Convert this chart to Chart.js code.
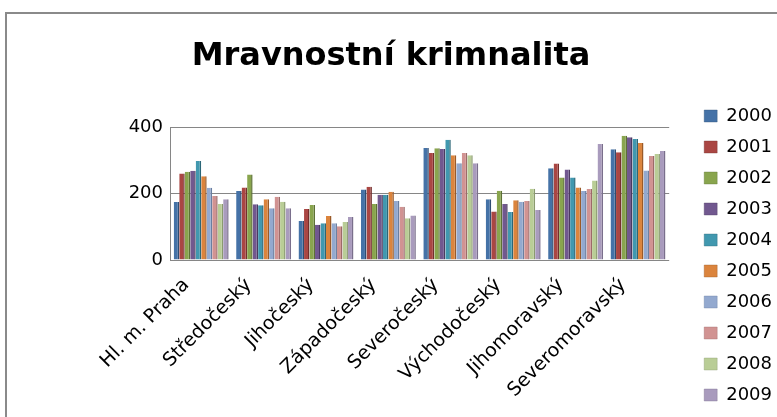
<!DOCTYPE html>
<html>
<head>
<meta charset="utf-8">
<title>Mravnostní krimnalita</title>
<script src="https://cdn.jsdelivr.net/npm/chart.js@4/dist/chart.umd.min.js"></script>
<style>
  html, body { margin: 0; padding: 0; background: #fff; }
  canvas { display: block; }
</style>
</head>
<body>
<canvas id="myChart" width="777" height="417"></canvas>
<script>
// regions on the x axis
var regions = ['Hl. m. Praha', 'Středočeský', 'Jihočeský', 'Západočeský',
  'Severočeský', 'Východočeský', 'Jihomoravský', 'Severomoravský'];
var years = ['2000', '2001', '2002', '2003', '2004', '2005', '2006', '2007', '2008', '2009'];

// values per region, one array per year
var y2000 = [175, 208, 118, 213, 338, 183, 277, 334];
var y2001 = [261, 219, 154, 221, 323, 146, 291, 325];
var y2002 = [266, 258, 166, 169, 337, 209, 249, 375];
var y2003 = [269, 168, 106, 197, 335, 169, 273, 370];
var y2004 = [299, 165, 111, 197, 363, 145, 249, 365];
var y2005 = [253, 183, 133, 206, 316, 180, 219, 353];
var y2006 = [218, 156, 111, 178, 292, 176, 208, 270];
var y2007 = [193, 191, 102, 161, 323, 178, 214, 314];
var y2008 = [169, 176, 115, 126, 316, 215, 240, 320];
var y2009 = [183, 156, 130, 134, 292, 151, 350, 329];
var values = [y2000, y2001, y2002, y2003, y2004, y2005, y2006, y2007, y2008, y2009];

var yTicks = [0, 200, 400];

var colors = ['#4572A7', '#AA4643', '#89A54E', '#71588F', '#4198AF',
  '#DB843D', '#93A9CF', '#D19392', '#B9CD96', '#A99BBD'];
var sides = ['#2E4D73', '#742F2D', '#5D7135', '#4B3A60', '#2B6677',
  '#9A5A28', '#6A7EA0', '#9C6A69', '#8A9A6F', '#7A6F8C'];

var font = { family: 'DejaVu Sans', size: 18 };

// grey frame round the chart, like the spreadsheet chart object
var frame = {
  id: 'frame',
  beforeDraw: function(chart) {
    var ctx = chart.ctx;
    ctx.save();
    ctx.fillStyle = '#fff';
    ctx.fillRect(0, 0, chart.width, chart.height);
    ctx.strokeStyle = '#8a8a8a';
    ctx.lineWidth = 2;
    ctx.strokeRect(6, 13, 840, 480);
    ctx.restore();
  }
};

var datasets = [];
for (var i = 0; i < years.length; i++) {
  datasets.push({
    label: years[i],
    data: values[i],
    backgroundColor: colors[i],
    borderColor: sides[i],
    borderWidth: { top: 0, right: 1.5, bottom: 0, left: 0 },
    borderSkipped: false,
    categoryPercentage: 0.88,
    barPercentage: 1.0
  });
}

var ctx = document.getElementById('myChart').getContext('2d');
var chart = new Chart(ctx, {
  type: 'bar',
  data: { labels: regions, datasets: datasets },
  plugins: [frame],
  options: {
    responsive: false,
    animation: false,
    layout: { padding: { right: -5 } },
    plugins: {
      title: {
        display: true,
        text: 'Mravnostní krimnalita',
        color: '#000',
        font: { family: 'DejaVu Sans', size: 32, weight: 'bold', lineHeight: 1.2 },
        padding: { top: 37, bottom: 0 }
      },
      legend: {
        position: 'right',
        align: 'end',
        labels: {
          color: '#000',
          font: { family: 'DejaVu Sans', size: 18, lineHeight: 1 },
          boxWidth: 13,
          boxHeight: 12,
          padding: 13
        }
      },
      tooltip: { enabled: false }
    },
    scales: {
      x: {
        position: 'bottom',
        grid: { display: false, drawTicks: false },
        border: { display: false },
        ticks: {
          color: '#000',
          font: { family: 'DejaVu Sans', size: 19 },
          minRotation: 45,
          maxRotation: 45,
          autoSkip: false,
          padding: 14,
          labelOffset: -15
        },
        afterFit: function(s) { s.height = 157; }
      },
      y: {
        min: 0,
        max: 400,
        grid: { color: '#868686', drawTicks: false },
        border: { color: '#868686' },
        afterBuildTicks: function(s) {
          s.ticks = yTicks.map(function(v) { return { value: v }; });
        },
        ticks: { color: '#000', font: font, padding: 7 },
        afterFit: function(s) { s.width = 170; }
      },
      // empty spacer axes that hold the plot area in place
      xTop: {
        axis: 'x',
        type: 'linear',
        position: 'top',
        grid: { display: false },
        border: { display: false },
        ticks: { display: false },
        afterFit: function(s) { s.height = 52; }
      },
      yRight: {
        axis: 'y',
        type: 'linear',
        position: 'right',
        grid: { display: false },
        border: { display: false },
        ticks: { display: false },
        afterFit: function(s) { s.width = 22; }
      }
    }
  }
});
</script>
</body>
</html>
